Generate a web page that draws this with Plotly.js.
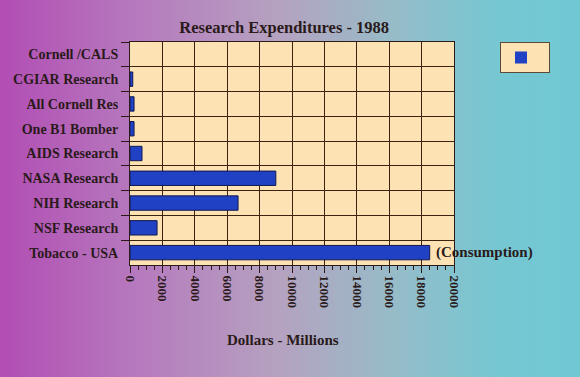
<!DOCTYPE html>
<html><head><meta charset="utf-8">
<script src="https://cdn.plot.ly/plotly-3.0.1.min.js"></script>
<style>
html,body{margin:0;padding:0;width:580px;height:377px;overflow:hidden;}
body{background:linear-gradient(to right,#b24db4 0%,#b67cbe 25%,#b5a2c0 48%,#96bcc8 68%,#76c7d2 85%,#70c8d4 100%);}
#chart{width:580px;height:377px;}
</style></head><body>
<div id="chart"></div>
<script>
const categories = ["Cornell /CALS","CGIAR Research","All Cornell Res","One B1 Bomber","AIDS Research","NASA Research","NIH Research","NSF Research","Tobacco - USA"];
const values = [0, 170, 250, 250, 740, 9000, 6670, 1670, 18500];
const xTicks = [0,2000,4000,6000,8000,10000,12000,14000,16000,18000,20000];
const serif = "Liberation Serif, Times New Roman, serif";
const ink = "#2a1a1a";

const trace = {
  type: "bar", orientation: "h",
  y: categories, x: values, name: " ",
  width: 0.58,
  marker: {color: "#2141c4", line: {color: "#101850", width: values.map(v => v > 0 ? 1 : 0)}},
  showlegend: true, hoverinfo: "x+y"
};

const layout = {
  width: 580, height: 377,
  paper_bgcolor: "rgba(0,0,0,0)",
  plot_bgcolor: "#fde2b4",
  margin: {l: 130, r: 126, t: 42, b: 112},
  title: {text: "Research Expenditures - 1988", x: 0.49, xanchor: "center", y: 0.928, yanchor: "middle",
          font: {family: serif, size: 16.5, color: ink, weight: "bold"}},
  xaxis: {
    range: [0, 20000], tickvals: xTicks, ticktext: xTicks.map(String),
    tickangle: 90, ticks: "outside", ticklen: 7, tickwidth: 1, tickcolor: ink,
    minor: {dtick: 500, ticks: "outside", ticklen: 4, tickcolor: ink, showgrid: false},
    showgrid: true, gridcolor: "#3e2210", gridwidth: 1,
    showline: true, linecolor: ink, linewidth: 1, mirror: true, zeroline: false,
    tickfont: {family: serif, size: 13, color: ink, weight: "bold"}
  },
  yaxis: {
    type: "category", autorange: "reversed", tickson: "boundaries",
    ticks: "outside", ticklen: 8, tickcolor: ink, ticklabelstandoff: 8,
    showgrid: true, gridcolor: "#3e2210", gridwidth: 1,
    showline: true, linecolor: ink, linewidth: 1, mirror: true,
    tickfont: {family: serif, size: 14, color: ink, weight: "bold"}
  },
  legend: {x: 1.142, xanchor: "left", y: 1.0, yanchor: "top",
           bgcolor: "#fde2b4", bordercolor: "#5a4a3a", borderwidth: 1,
           font: {family: serif, size: 11, color: ink}, itemwidth: 30},
  annotations: [{
    x: values[8], y: categories[8], xref: "x", yref: "y",
    text: "(Consumption)", showarrow: false, xanchor: "left", xshift: 4,
    font: {family: serif, size: 15, color: ink, weight: "bold"}
  }, {
    x: 0.472, y: 0, xref: "paper", yref: "paper", yanchor: "middle",
    text: "Dollars - Millions", showarrow: false, xanchor: "center",
    font: {family: serif, size: 15, color: ink, weight: "bold"}
  }],
  bargap: 0.4
};
const plotH = 377 - 42 - 112;
layout.annotations[1].y = -(340 - (377 - 112)) / plotH;

Plotly.newPlot("chart", [trace], layout, {displayModeBar: false, staticPlot: true});
</script>
</body></html>
